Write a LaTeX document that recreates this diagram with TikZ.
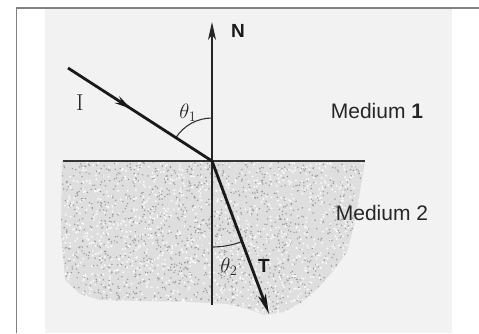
\documentclass[tikz,border=0pt]{standalone}
\usepackage{fontspec}
\setsansfont{Liberation Sans}
\usetikzlibrary{arrows.meta,decorations.markings}
\begin{document}
\begin{tikzpicture}[x=1pt,y=-1pt,
  frameline/.style={draw=black!50, line width=1.3pt},
  normalline/.style={draw=black!85, line width=1.3pt},
  surface/.style={draw=black!80, line width=2.2pt},
  ray/.style={draw=black!90, line width=2.8pt},
  anglearc/.style={draw=black!80, line width=1.1pt},
  medlabel/.style={font=\sffamily\fontsize{21}{21}\selectfont, text=black!85},
  boldlabel/.style={font=\sffamily\bfseries\fontsize{19}{19}\selectfont, text=black!90},
  greeklabel/.style={font=\fontsize{21}{21}\selectfont, text=black!85}
]
\useasboundingbox (0,0) rectangle (479,333);
\fill[white] (0,0) rectangle (479,333);
\fill[black!5] (45,9) rectangle (452,333);
\draw[frameline] (16.5,333) -- (16.5,8) -- (479,8);

% stippled medium 2
\begin{scope}
\clip (62,161) -- (365,161) -- (361,185) -- (354,225) -- (347,252) -- (334,270) -- (318,288)
  -- (302,302) -- (284,312) -- (265,315) -- (248,309) -- (228,304) -- (190,302)
  -- (140,301) -- (100,300) -- (80,294) -- (65,280) -- (61,230) -- cycle;
\fill[black!13] (55,155) rectangle (370,320);
\pgfmathsetseed{7}
\foreach \i in {1,...,1700}{
  \pgfmathsetmacro\rx{58+rnd*312}
  \pgfmathsetmacro\ry{158+rnd*162}
  \fill[black!40] (\rx,\ry) circle (0.8pt);
}
\foreach \i in {1,...,1300}{
  \pgfmathsetmacro\rx{58+rnd*312}
  \pgfmathsetmacro\ry{158+rnd*162}
  \fill[black!2] (\rx,\ry) circle (1.1pt);
}
\end{scope}

\coordinate (O) at (212,161);
\coordinate (L) at (63,161);
\coordinate (R) at (365,161);
\coordinate (Ntop) at (212,22);
\coordinate (Nbot) at (212,305);
\coordinate (A) at (68,68);
\coordinate (B) at (269,314);

\draw[surface] (L) -- (R);
\draw[normalline, -{Stealth[length=18pt,width=8pt,inset=5pt]}] (Nbot) -- (Ntop);

% angle arcs
\draw[anglearc] (212,118) arc[start angle=-90, end angle=-147.1, radius=43];
\draw[anglearc] (212,247) arc[start angle=90, end angle=69.8, radius=86];

% incident ray with mid arrow
\draw[ray, decoration={markings, mark=at position 0.44 with {\arrow{Stealth[length=17pt,width=8pt,inset=6pt]}}}, postaction={decorate}] (A) -- (O);
% refracted ray
\draw[ray, -{Stealth[length=20pt,width=8pt,inset=5pt]}] (O) -- (B);

\node[boldlabel] (Nlbl) at (238,31) {N};
\node[font=\fontsize{23}{23}\selectfont, text=black!85] (Ilbl) at (80,103) {I};
\node[greeklabel] (t1) at (188,113) {$\theta_1$};
\node[greeklabel] (t2) at (229,267) {$\theta_2$};
\node[boldlabel] (Tlbl) at (264,266) {T};
\node[medlabel] (m1) at (377,111) {Medium \textbf{1}};
\node[medlabel] (m2) at (382,213) {Medium 2};
\end{tikzpicture}
\end{document}
